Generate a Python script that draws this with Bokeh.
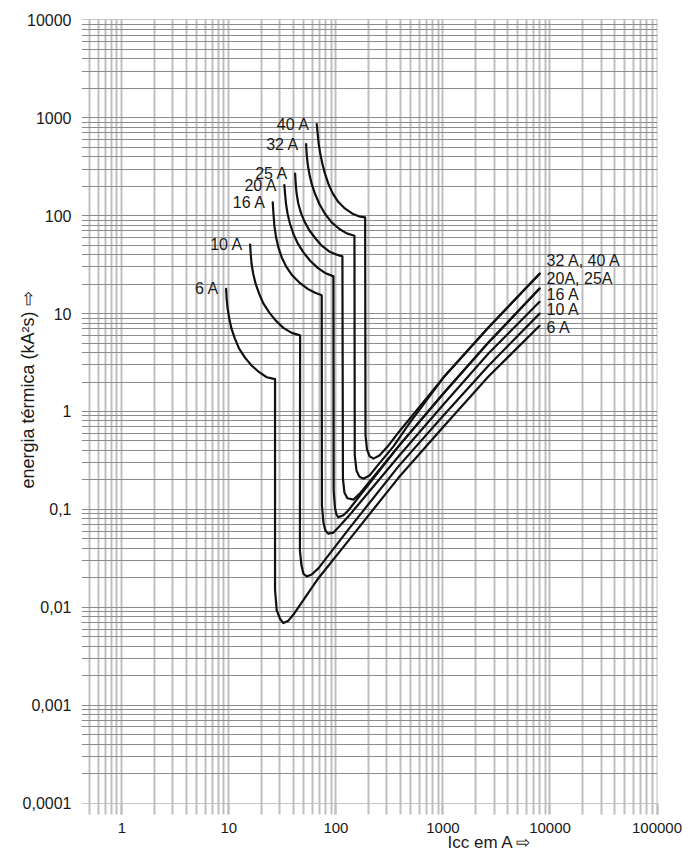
from bokeh.plotting import figure
from bokeh.models import Range1d, FixedTicker, Title
from bokeh.core.properties import value
from bokeh.embed import file_html
from bokeh.resources import INLINE

# ---------------- data ----------------
ratings = ["6 A", "10 A", "16 A", "20 A", "25 A", "32 A", "40 A"]

icc_6A = [9.42, 9.54, 9.74, 10.1, 10.6, 11.4, 12.5, 14.2, 16.3, 19.2, 22.6, 27.0, 27.0, 28.0, 30.1, 32.3, 36.0, 41.0, 68.6, 131, 384, 1010, 2660, 8000]
i2t_6A = [17.9, 14.1, 11.2, 8.83, 6.98, 5.52, 4.36, 3.53, 2.95, 2.52, 2.24, 2.14, 0.015, 0.0093, 0.0076, 0.0069, 0.0073, 0.0087, 0.0198, 0.048, 0.21, 0.70, 2.28, 7.5]

icc_10A = [15.8, 16.0, 16.3, 16.9, 17.8, 19.2, 21.0, 23.8, 27.4, 32.3, 38.6, 46.3, 46.1, 47.6, 49.7, 53.3, 59.0, 68.6, 131, 384, 1010, 2660, 8000]
i2t_10A = [50.6, 40.7, 32.1, 25.4, 20.1, 15.9, 12.7, 10.3, 8.49, 7.15, 6.36, 6.0, 0.038, 0.027, 0.022, 0.0207, 0.0215, 0.025, 0.0625, 0.275, 0.91, 2.94, 10]

icc_16A = [25.7, 26.1, 26.6, 27.6, 29.0, 31.2, 34.2, 38.6, 45.3, 54.5, 63.9, 73.7, 74.0, 76.4, 79.7, 85.0, 95.0, 110, 131, 384, 1010, 2660, 8000]
i2t_16A = [136.7, 104, 79.1, 60.1, 47.5, 37.5, 30.4, 25.0, 20.9, 17.9, 16.3, 15.4, 0.11, 0.074, 0.061, 0.0565, 0.058, 0.0687, 0.0849, 0.3475, 1.18, 3.91, 13.2]

icc_20A = [33.0, 33.5, 34.2, 35.4, 37.3, 40.1, 44.0, 49.7, 57.4, 67.6, 80.3, 94.8, 95.3, 97.9, 101, 105.5, 117.5, 131, 384, 1010, 2660, 8000]
i2t_20A = [205.7, 166.5, 131.6, 104, 82.3, 65.1, 52.2, 42.2, 34.7, 29.3, 25.8, 24.0, 0.156, 0.105, 0.089, 0.083, 0.087, 0.098, 0.44, 1.53, 5.06, 18]

icc_25A = [41.6, 42.1, 43.0, 44.6, 47.3, 50.8, 56.2, 63.9, 73.7, 86.4, 101.7, 115, 116.3, 120, 128, 146, 169, 384, 1010, 2660, 8000]
i2t_25A = [270, 211, 166.5, 131.6, 105.6, 87.5, 71.5, 59.2, 49.4, 43.2, 40.0, 38.4, 0.207, 0.149, 0.13, 0.126, 0.147, 0.44, 1.53, 5.06, 18]

icc_32A = [52.7, 53.3, 54.5, 56.5, 59.4, 63.9, 70.1, 79.3, 91.3, 107.8, 126.2, 149, 150, 155.5, 166, 181, 206, 250, 345, 476, 1010, 2660, 8000]
i2t_32A = [539, 426, 337, 266, 211, 166.5, 131.6, 104, 85.4, 73.2, 66.0, 62.5, 0.356, 0.25, 0.215, 0.206, 0.222, 0.288, 0.44, 0.736, 2.22, 7.2, 25.6]

icc_40A = [66.2, 67.6, 69.1, 71.6, 74.8, 79.3, 85.1, 93.3, 105.5, 121.9, 142.6, 168.4, 187.5, 189, 195, 206, 224, 255, 310, 384, 1010, 2660, 8000]
i2t_40A = [862, 682, 539, 426, 337, 266, 211, 169, 138, 118, 104.8, 97.7, 96, 0.57, 0.41, 0.35, 0.33, 0.356, 0.45, 0.61, 2.22, 7.2, 25.6]

right_labels = ["32 A, 40 A", "20A, 25A", "16 A", "10 A", "6 A"]
right_label_i2t = [34.8, 22.6, 15.5, 10.9, 7.24]
right_label_icc = 8000

x_major = [1, 10, 100, 1000, 10000, 100000]
x_major_labels = ["1", "10", "100", "1000", "10000", "100000"]
y_major = [0.0001, 0.001, 0.01, 0.1, 1, 10, 100, 1000, 10000]
y_major_labels = ["0,0001", "0,001", "0,01", "0,1", "1", "10", "100", "1000", "10000"]

x_axis_title = "Icc em A \u21e8"
y_axis_title = "energia térmica (kA²s) \u21e8"

# ---------------- grid positions (mantissas 1..9 of each decade) ----------------
x_grid = [m * 10.0 ** e for e in range(-1, 5) for m in range(1, 10)]
x_grid = [v for v in x_grid if 0.45 < v <= 100000] + [100000]
y_grid = [m * 10.0 ** e for e in range(-4, 4) for m in range(1, 10)] + [10000]

FONT = "Liberation Sans"
INK = "#1a1a1a"

W, H = 682, 855
FL, FT, FW, FH = 81, 19, 576, 784   # frame left/top/width/height in px

p = figure(width=W, height=H,
           x_axis_type="log", y_axis_type="log",
           x_range=Range1d(0.42, 1.01e5), y_range=Range1d(9.9e-5, 1.01e4),
           output_backend="svg", toolbar_location=None,
           min_border_left=FL, min_border_right=W - FL - FW,
           min_border_top=FT, min_border_bottom=H - FT - FH)
p.outline_line_color = None
p.background_fill_color = "white"
p.border_fill_color = "white"

# grid
p.xgrid.ticker = FixedTicker(ticks=x_grid)
p.xgrid.grid_line_color = "#bfbfbf"
p.xgrid.grid_line_width = 2
p.ygrid.ticker = FixedTicker(ticks=y_grid)
p.ygrid.grid_line_color = "#8c8c8c"
p.ygrid.grid_line_width = 1

# x axis
xa = p.xaxis[0]
xa.ticker = FixedTicker(ticks=x_major, minor_ticks=x_grid)
xa.axis_line_color = None
xa.major_tick_in = 0
xa.major_tick_out = 11
xa.minor_tick_in = 0
xa.minor_tick_out = 11
xa.major_tick_line_color = "#bfbfbf"
xa.major_tick_line_width = 2
xa.minor_tick_line_color = "#bfbfbf"
xa.minor_tick_line_width = 2
xa.major_label_overrides = {v: s for v, s in zip(x_major, x_major_labels)}
xa.major_label_standoff = 8
xa.major_label_text_font = FONT
xa.major_label_text_font_size = "15px"
xa.major_label_text_color = INK

# y axis
ya = p.yaxis[0]
ya.ticker = FixedTicker(ticks=y_major, minor_ticks=[])
ya.axis_line_color = None
ya.major_tick_in = 0
ya.major_tick_out = 0
ya.major_label_overrides = {v: s for v, s in zip(y_major, y_major_labels)}
ya.major_label_standoff = 10
ya.major_label_text_font = FONT
ya.major_label_text_font_size = "16px"
ya.major_label_text_color = INK

# curves
curves = [(icc_6A, i2t_6A), (icc_10A, i2t_10A), (icc_16A, i2t_16A), (icc_20A, i2t_20A),
          (icc_25A, i2t_25A), (icc_32A, i2t_32A), (icc_40A, i2t_40A)]
for xs, ys in curves:
    p.line(xs, ys, line_color="#111111", line_width=2.2, line_join="round", line_cap="round")

# labels at curve starts
p.text(x=[c[0][0] for c in curves], y=[c[1][0] for c in curves], text=ratings,
       x_offset=-7, text_align="right", text_baseline="middle",
       text_font=value(FONT), text_font_size="16px", text_color=INK)

# labels at curve ends
p.text(x=[right_label_icc] * len(right_labels), y=right_label_i2t, text=right_labels,
       x_offset=7, text_align="left", text_baseline="middle",
       text_font=value(FONT), text_font_size="16px", text_color=INK)

# axis titles (side-panel titles, so they are not clipped to the frame)
xt = Title(text=x_axis_title, align="left", offset=447 - FL, vertical_align="bottom",
           text_font=FONT, text_font_size="17px", text_font_style="normal",
           text_color=INK)
try:
    xt.standoff = -10
except Exception:
    xt.standoff = 0
p.add_layout(xt, "below")

yt = Title(text=y_axis_title, align="left", offset=(FT + FH) - 488, vertical_align="bottom",
           text_font=FONT, text_font_size="18px", text_font_style="normal",
           text_color=INK)
try:
    yt.standoff = -36
except Exception:
    yt.standoff = 0
p.add_layout(yt, "left")

open("out.html", "w").write(file_html(p, INLINE))
